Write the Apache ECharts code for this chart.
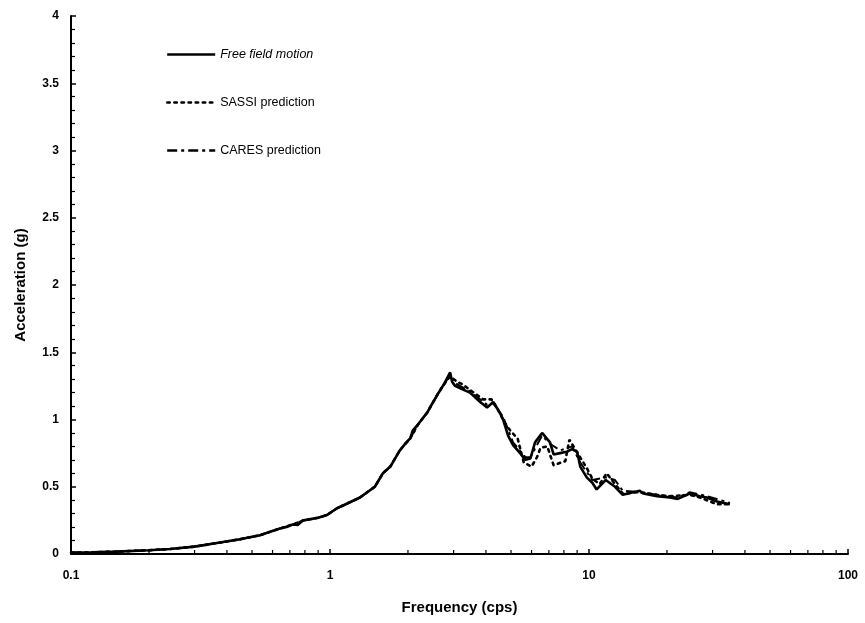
<!DOCTYPE html>
<html>
<head>
<meta charset="utf-8">
<script src="https://cdn.jsdelivr.net/npm/echarts@6/dist/echarts.min.js"></script>
<style>
html,body{margin:0;padding:0;background:#fff;}
#chart{width:865px;height:623px;}
</style>
</head>
<body>
<div id="chart"></div>
<script>
var seriesNames = ['Free field motion', 'SASSI prediction', 'CARES prediction'];

var freeFreq = [0.1,0.12,0.15,0.2,0.241,0.3,0.376,0.45,0.491,0.537,0.587,0.641,0.68,0.72,0.75,0.788,0.85,0.9,0.974,1.064,1.15,1.305,1.49,1.6,1.71,1.86,1.95,2.04,2.09,2.2,2.37,2.45,2.59,2.75,2.91,2.96,3.04,3.2,3.47,3.8,4.04,4.27,4.5,4.66,4.87,5.09,5.42,5.68,5.94,6.19,6.59,6.7,7.07,7.3,7.73,8.2,8.6,9.0,9.25,9.8,10.3,10.7,11.6,12.6,13.5,15.7,16.2,18.3,20.5,22,24.5,26.8,28.5,31.2,35];
var freeAcc  = [0.01,0.012,0.018,0.028,0.037,0.055,0.085,0.11,0.125,0.14,0.165,0.19,0.2,0.22,0.215,0.25,0.26,0.27,0.29,0.34,0.37,0.42,0.5,0.6,0.65,0.77,0.82,0.86,0.92,0.97,1.05,1.1,1.18,1.26,1.35,1.28,1.25,1.23,1.2,1.13,1.09,1.13,1.06,1.0,0.88,0.81,0.75,0.7,0.71,0.83,0.9,0.91,0.83,0.74,0.75,0.76,0.78,0.76,0.65,0.57,0.53,0.48,0.55,0.5,0.44,0.47,0.45,0.43,0.42,0.41,0.45,0.43,0.42,0.39,0.37];

var sassiFreq = [0.1,0.12,0.15,0.2,0.241,0.3,0.376,0.45,0.491,0.537,0.587,0.641,0.72,0.788,0.9,0.974,1.064,1.15,1.305,1.49,1.6,1.71,1.86,2.04,2.2,2.37,2.59,2.75,2.91,3.1,3.26,3.47,3.9,4.2,4.4,4.6,4.74,5.0,5.3,5.6,6.0,6.3,6.5,6.9,7.3,7.8,8.1,8.4,8.9,9.8,10.3,11.0,11.7,12.6,13.5,15.7,18.3,20.5,24.5,26.8,28.5,31.2,35];
var sassiAcc  = [0.01,0.012,0.018,0.028,0.037,0.055,0.085,0.11,0.125,0.14,0.165,0.19,0.22,0.25,0.27,0.29,0.34,0.37,0.42,0.5,0.6,0.65,0.77,0.86,0.97,1.05,1.18,1.26,1.32,1.28,1.26,1.22,1.15,1.15,1.09,1.02,0.97,0.91,0.86,0.68,0.65,0.72,0.79,0.8,0.66,0.68,0.69,0.85,0.77,0.64,0.56,0.52,0.6,0.52,0.45,0.46,0.44,0.43,0.44,0.42,0.4,0.37,0.37];

var caresFreq = [0.1,0.12,0.15,0.2,0.241,0.3,0.376,0.45,0.491,0.537,0.587,0.641,0.72,0.788,0.9,0.974,1.064,1.15,1.305,1.49,1.6,1.71,1.86,2.04,2.2,2.37,2.59,2.75,2.91,3.04,3.47,4.04,4.27,4.66,5.09,5.68,5.94,6.59,7.07,7.73,8.6,9.25,10.3,11.6,12.6,13.5,15.7,18.3,22,24.5,28.5,35];
var caresAcc  = [0.01,0.012,0.018,0.028,0.037,0.055,0.085,0.11,0.125,0.14,0.165,0.19,0.22,0.25,0.27,0.29,0.34,0.37,0.42,0.5,0.6,0.65,0.77,0.86,0.97,1.05,1.18,1.26,1.33,1.27,1.21,1.11,1.12,1.02,0.83,0.72,0.72,0.88,0.82,0.77,0.8,0.68,0.55,0.57,0.55,0.47,0.46,0.44,0.42,0.46,0.43,0.38];

var xMajorTicks = [0.1, 1, 10, 100];
var xMinorTicks = [0.2,0.3,0.4,0.5,0.6,0.7,0.8,0.9,2,3,4,5,6,7,8,9,20,30,40,50,60,70,80,90];

function pairs(xs, ys){ return xs.map(function(x,i){ return [x, ys[i]]; }); }

var FONT = 'Liberation Sans, Arial, sans-serif';
var chart = echarts.init(document.getElementById('chart'), null, {renderer:'canvas'});
chart.setOption({
  backgroundColor: '#ffffff',
  animation: false,
  grid: {left: 71, right: 17, top: 16, bottom: 69},
  legend: {
    orient: 'vertical',
    left: 161,
    top: 43,
    itemWidth: 48,
    itemHeight: 14,
    itemGap: 35,
    itemStyle: {opacity: 0, borderWidth: 0},
    lineStyle: {width: 2.4},
    data: seriesNames,
    textStyle: {fontFamily: FONT, fontSize: 12.5, color: '#000',
      rich: {it: {fontFamily: FONT, fontSize: 12.5, fontStyle: 'italic', color: '#000'}}},
    formatter: function(n){ return n === seriesNames[0] ? '{it|' + n + '}' : n; }
  },
  xAxis: {
    type: 'log', logBase: 10, min: 0.1, max: 100,
    name: 'Frequency (cps)', nameLocation: 'middle', nameGap: 46,
    nameTextStyle: {fontFamily: FONT, fontWeight: 'bold', fontSize: 15, color: '#000'},
    axisLine: {lineStyle: {color: '#000', width: 2}},
    axisTick: {inside: true, length: 5, lineStyle: {color: '#000', width: 1.5}},
    axisLabel: {fontFamily: FONT, fontWeight: 'bold', fontSize: 12, color: '#000', margin: 16,
      formatter: function(v){ return String(v); }},
    splitLine: {show: false}
  },
  yAxis: {
    type: 'value', min: 0, max: 4, interval: 0.5,
    name: 'Acceleration (g)', nameLocation: 'middle', nameGap: 43, nameRotate: 90,
    nameTextStyle: {fontFamily: FONT, fontWeight: 'bold', fontSize: 15, color: '#000'},
    axisLine: {show: true, lineStyle: {color: '#000', width: 2}},
    axisTick: {show: true, inside: true, length: 5, lineStyle: {color: '#000', width: 1.5}},
    minorTick: {show: true, splitNumber: 5, length: 4, lineStyle: {color: '#000', width: 1.2}},
    axisLabel: {fontFamily: FONT, fontWeight: 'bold', fontSize: 12, color: '#000', margin: 12},
    splitLine: {show: false}
  },
  series: [
    {
      name: seriesNames[0], type: 'line', symbol: 'none', z: 5,
      data: pairs(freeFreq, freeAcc),
      lineStyle: {color: '#000', width: 2.6, type: 'solid'},
      itemStyle: {color: '#000'}
    },
    {
      name: seriesNames[1], type: 'line', symbol: 'none', z: 4,
      data: pairs(sassiFreq, sassiAcc),
      lineStyle: {color: '#000', width: 2.6, type: [2.6, 4.5], cap: 'round'},
      itemStyle: {color: '#000'}
    },
    {
      name: seriesNames[2], type: 'line', symbol: 'none', z: 3,
      data: pairs(caresFreq, caresAcc),
      lineStyle: {color: '#000', width: 2, type: [10, 4, 3, 4]},
      itemStyle: {color: '#000'}
    },
    {
      type: 'custom', silent: true, z: 6,
      data: xMinorTicks.map(function(f){ return [f, 0]; }),
      renderItem: function(params, api){
        var p = api.coord([api.value(0), 0]);
        return {type: 'line', shape: {x1: p[0], y1: p[1], x2: p[0], y2: p[1] - 4},
          style: {stroke: '#000', lineWidth: 1.2}};
      }
    }
  ]
});
</script>
</body>
</html>
